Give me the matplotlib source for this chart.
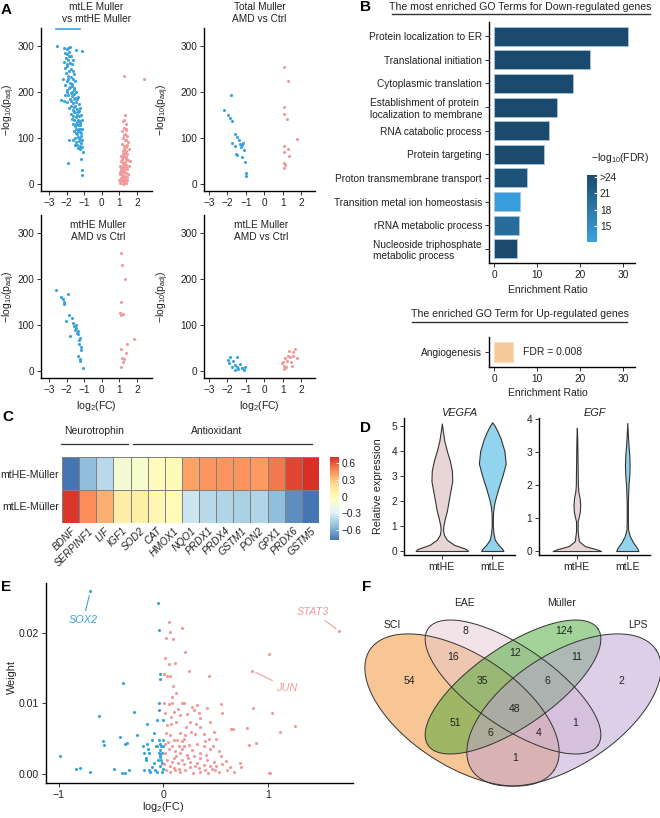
import matplotlib
matplotlib.use('Agg')
import matplotlib.pyplot as plt
import numpy as np
from matplotlib.colors import LinearSegmentedColormap, Normalize
from matplotlib.cm import ScalarMappable
from matplotlib.lines import Line2D

plt.rcParams['font.family'] = ['Liberation Sans', 'DejaVu Sans']
plt.rcParams['mathtext.fontset'] = 'custom'
plt.rcParams['mathtext.rm'] = 'Liberation Sans'
plt.rcParams['mathtext.it'] = 'Liberation Sans:italic'
plt.rcParams['mathtext.default'] = 'regular'

# ---------------- data ----------------
# A: volcano plots, (log2FC, -log10 padj)
a1_down = [(-2.55,300),(-2.15,297),(-2.0,294),(-1.9,296),(-1.78,298),(-1.45,291),(-1.12,290),
           (-2.1,286),(-1.95,283),(-1.85,279),(-2.05,274),(-1.9,270),(-2.15,266),(-1.8,263),(-1.98,258),
           (-2.08,252),(-1.72,251),(-1.88,246),(-1.62,247),(-2.02,241),(-1.92,236),(-1.77,233),(-2.18,230),
           (-1.66,229),(-1.97,224),(-1.82,221),(-2.06,216),(-1.71,214),(-1.88,209),(-1.58,206),(-1.95,201),
           (-1.76,199),(-1.56,196),(-1.9,193),(-1.67,191),(-1.82,186),(-1.5,188),(-1.72,181),(-2.3,183),
           (-2.16,180),(-1.96,178),(-1.61,176),(-1.46,179),(-1.76,171),(-1.56,169),(-1.86,166),(-1.41,164),
           (-1.66,161),(-1.51,158),(-1.77,153),(-1.36,156),(-1.61,149),(-1.46,146),(-1.31,148),(-1.71,141),
           (-1.56,139),(-1.41,136),(-1.26,138),(-1.62,131),(-1.36,129),(-1.51,126),(-1.21,128),(-1.46,119),
           (-1.31,121),(-1.56,116),(-1.26,113),(-1.41,109),(-1.16,111),(-1.36,103),(-1.51,101),(-1.21,99),
           (-1.31,93),(-1.46,91),(-1.16,89),(-1.26,83),(-1.36,79),(-1.11,81),(-1.21,76),(-1.62,97),
           (-1.86,95),(-1.52,86),(-1.9,45),(-1.2,55),(-1.15,30),(-1.12,20),
           (-1.45,200),(-1.35,190),(-1.3,175),(-1.25,165),(-1.2,150),(-1.15,140),(-1.3,160),(-1.4,185),
           (-1.55,210),(-1.5,225),(-1.6,240),(-1.7,262),(-1.75,280),(-1.65,270),(-2.0,205),(-2.1,195),
           (-1.25,120),(-1.18,105),(-1.1,95),(-1.35,140),(-1.45,130),(-1.4,150),(-1.5,170),(-1.6,185),
           (-1.7,200),(-1.8,212),(-1.92,228),(-2.0,262),(-1.85,288),(-1.67,218),(-1.57,158),(-1.48,112),
           (-1.33,115),(-1.22,133),(-1.28,100),(-1.38,86),(-1.1,120),(-1.05,70)]
a1_up = [(1.25,235),(2.4,230),
         (1.3,150),(1.22,138),(1.38,130),(1.28,122),(1.15,115),(1.33,110),(1.42,104),(1.2,100),(1.3,96),
         (1.48,92),(1.12,88),(1.25,84),(1.38,80),(1.55,76),(1.18,72),(1.32,68),(1.45,65),(1.08,62),
         (1.22,58),(1.35,55),(1.5,52),(1.62,50),(1.15,48),(1.28,45),(1.4,42),(1.05,40),(1.2,37),(1.33,35),
         (1.45,32),(1.1,30),(1.25,28),(1.38,25),(1.02,23),(1.15,20),(1.3,18),(1.42,16),(1.08,14),(1.2,12),
         (1.33,10),(1.0,8),(1.12,6),(1.25,5),(1.38,3),(1.05,2),(1.18,1),(1.3,2),
         (1.14,55),(1.27,62),(1.35,72),(1.24,76),(1.1,35),(1.18,42),(1.3,48),(1.4,58),(1.06,26),(1.16,29),
         (1.28,33),(1.22,24),(1.36,38),(1.12,16),(1.24,14),(1.06,9),(1.18,8),(1.3,7),(1.42,10),(1.5,22),
         (1.55,40),(1.44,85),(1.36,95),(1.26,108),(1.35,118),(1.28,140),(1.4,120),(1.1,50),(1.2,66)]
a1_capped_fc = [-2.6, -1.25]
a1_cap = 337
a2_down = [(-1.8,193),(-2.17,161),(-1.96,150),(-1.85,143),(-1.74,137),(-1.58,110),(-1.47,103),(-1.3,87),
           (-1.2,85),(-1.15,90),(-1.74,89),(-1.52,65),(-1.03,48),(-1.47,63),(-1.0,24),(-1.0,17),(-1.25,80),
           (-1.38,95),(-1.1,75),(-1.6,82),(-1.2,60)]
a2_up = [(1.09,254),(1.3,224),(1.09,168),(1.09,152),(1.24,141),(1.79,98),(1.09,83),(1.3,76),(1.09,70),
         (1.36,61),(1.09,45),(1.14,41),(1.09,35)]
a3_down = [(-2.61,176),(-2.33,161),(-1.93,167),(-2.22,156),(-2.16,150),(-2.13,146),(-1.87,122),(-1.7,116),
           (-2.05,109),(-1.59,98),(-1.48,94),(-1.53,90),(-1.36,88),(-1.82,77),(-1.36,81),(-1.25,73),
           (-1.31,60),(-1.19,45),(-1.36,34),(-1.25,26),(-1.25,21),(-1.08,6),(-1.45,100),(-1.65,105),
           (-1.4,84),(-1.3,68),(-1.2,52)]
a3_up = [(1.08,257),(1.14,231),(1.31,201),(1.08,150),(1.02,126),(1.19,124),(1.08,122),(1.82,69),(1.42,60),
         (1.08,49),(1.36,39),(1.14,28),(1.25,26),(1.19,19),(1.1,10)]
a4_down = [(-1.85,30),(-1.47,30),(-1.68,21),(-1.9,17),(-1.58,13),(-1.3,15),(-1.03,9),(-1.2,7),(-1.5,8),
           (-1.2,6),(-1.95,25),(-1.75,10),(-1.4,4),(-1.1,2),(-1.6,3)]
a4_up = [(0.98,17),(1.25,23),(1.41,30),(1.58,34),(1.1,12),(1.8,28),(1.7,49),(1.3,34),(1.03,19),(1.58,41),
         (1.2,8),(1.45,20),(1.05,5),(1.35,44),(1.5,12),(1.15,28)]
a_titles = ['mtLE Muller\nvs mtHE Muller', 'Total Muller\nAMD vs Ctrl', 'mtHE Muller\nAMD vs Ctrl', 'mtLE Muller\nAMD vs Ctrl']

# B: GO enrichment
go_terms = ['Protein localization to ER', 'Translational initiation', 'Cytoplasmic translation',
            'Establishment of protein\nlocalization to membrane', 'RNA catabolic process', 'Protein targeting',
            'Proton transmembrane transport', 'Transition metal ion homeostasis', 'rRNA metabolic process',
            'Nucleoside triphosphate\nmetabolic process']
go_ratio = [31.2, 22.3, 18.4, 14.7, 12.8, 11.6, 7.7, 6.0, 5.7, 5.3]
go_logfdr = [24.3, 24.3, 24.3, 24.3, 24.3, 24.3, 23.0, 13.0, 19.5, 24.3]
up_term = ['Angiogenesis']
up_ratio = [4.4]
up_fdr = '0.008'

# C: heatmap
heat_genes = ['BDNF', 'SERPINF1', 'LIF', 'IGF1', 'SOD2', 'CAT', 'HMOX1', 'NQO1', 'PRDX1', 'PRDX4',
              'GSTM1', 'PON2', 'GPX1', 'PRDX6', 'GSTM5']
heat_rows = ['mtHE-Müller', 'mtLE-Müller']
heat_he = [-0.72, -0.48, -0.36, -0.08, -0.06, 0.02, 0.04, 0.42, 0.45, 0.46, 0.46, 0.44, 0.53, 0.66, 0.72]
heat_le = [0.70, 0.48, 0.38, 0.14, 0.12, 0.06, 0.03, -0.30, -0.36, -0.38, -0.40, -0.38, -0.48, -0.64, -0.72]

# D: violin profiles (expression level, density)
vegfa_he_y = [0, 0.08, 0.25, 0.45, 0.65, 0.85, 1.0, 1.3, 1.6, 2.0, 2.4, 2.8, 3.2, 3.6, 4.0, 4.4, 4.8, 5.1]
vegfa_he_d = [26, 24, 12, 5, 2, 1.2, 1.5, 3, 5, 6.7, 8.5, 10.3, 10, 8, 5, 2.5, 1, 0]
vegfa_le_y = [0, 0.08, 0.25, 0.45, 0.7, 1.0, 1.5, 1.8, 2.0, 2.5, 3.0, 3.5, 4.0, 4.5, 4.8, 5.0, 5.15]
vegfa_le_d = [11, 10, 6, 2.5, 1.2, 0.5, 0.7, 1.5, 2.5, 6, 10, 13.3, 12, 8.3, 5, 2.5, 0]
egf_he_y = [0, 0.05, 0.15, 0.3, 0.6, 0.9, 1.05, 1.2, 1.4, 1.6, 1.8, 2.0, 2.5, 3.0, 3.4, 3.73]
egf_he_d = [24, 20, 8, 2, 0.8, 0.8, 2, 3, 3.3, 2.8, 1.5, 1, 0.8, 0.6, 0.4, 0]
egf_le_y = [0, 0.08, 0.25, 0.45, 0.65, 0.9, 1.5, 2.0, 2.3, 2.6, 2.9, 3.2, 3.5, 3.88]
egf_le_d = [11, 10, 6, 2.5, 0.8, 0.6, 0.6, 1.2, 2, 2.3, 2, 1.2, 0.6, 0]
groups = ['mtHE', 'mtLE']

# E: weight vs log2FC
e_down = [(-0.984,0.0025),(-0.831,0.0007),(-0.80,0.0008),(-0.704,0.0003),(-0.618,0.0082),(-0.576,0.0046),
          (-0.564,0.0041),(-0.475,0.0007),(-0.417,0.0053),(-0.385,0.0128),(-0.363,0.0043),(-0.344,0.0044),
          (-0.395,0.0001),(-0.363,0.0002),(-0.325,0.0006),(-0.277,0.0088),(-0.252,0.0055),
          (-0.194,0.0039),(-0.188,0.0029),(-0.156,0.0043),(-0.150,0.0035),(-0.162,0.0020),(-0.18,0.0006),
          (-0.14,0.0006),(-0.108,0.0010),(-0.092,0.0016),(-0.076,0.0006),(-0.124,0.0003),(-0.06,0.0003),
          (-0.045,0.0029),(-0.06,0.0040),(-0.156,0.0071),(-0.06,0.0076),(-0.041,0.0048),(-0.029,0.0042),
          (-0.022,0.0039),(-0.035,0.0034),(-0.013,0.0029),(-0.029,0.0024),(-0.019,0.0020),(-0.01,0.0016),
          (-0.029,0.0011),(-0.006,0.0007),(-0.016,0.0003),(-0.045,0.0091),(-0.041,0.0100),(-0.048,0.0242),
          (-0.041,0.0204),(-0.003,0.0076),(-0.001,0.0048),(-0.003,0.0039),(-0.035,0.0135),(-0.029,0.0142),
          (-0.086,0.0058),(-0.105,0.0048),(-0.14,0.0029),(-0.169,0.0022),(-0.073,0.0039),(-0.054,0.0020),
          (-0.035,0.0027),(-0.697,0.0258)]
e_up = [(0.051,0.0215),(0.067,0.0201),(0.029,0.0192),(0.092,0.0191),(0.178,0.0206),(0.21,0.0172),(0.019,0.0164),
        (0.115,0.0157),(0.051,0.0156),(0.01,0.0141),(0.035,0.0138),(0.067,0.0138),(0.092,0.0125),(0.242,0.0145),
        (0.433,0.0138),(1.006,0.0170),(0.847,0.0146),(0.003,0.0100),(0.051,0.0099),(0.083,0.0101),(0.178,0.0101),
        (0.2,0.0100),(0.417,0.0093),(0.551,0.0099),(0.857,0.0094),(1.038,0.0086),(1.252,0.0068),(1.111,0.0059),
        (0.889,0.0044),(0.80,0.0065),(0.815,0.0041),(0.646,0.0063),(0.662,0.0063),(0.729,0.0016),(0.742,0.0010),
        (1.006,0.0002),(1.022,0.0002),(0.506,0.0050),(0.56,0.0086),(0.338,0.0086),(0.29,0.0091),(0.347,0.0079),
        (0.258,0.0074),(0.124,0.0074),(0.073,0.0070),(0.035,0.0069),(0.156,0.0058),(0.21,0.0055),(0.306,0.0057),
        (0.385,0.0057),(0.433,0.0050),(0.481,0.0060),(0.099,0.0048),(0.178,0.0046),(0.242,0.0041),(0.322,0.0043),
        (0.385,0.0039),(0.449,0.0036),(0.529,0.0033),(0.051,0.0036),(0.115,0.0032),(0.162,0.0029),(0.226,0.0027),
        (0.29,0.0025),(0.354,0.0022),(0.417,0.0020),(0.481,0.0017),(0.561,0.0014),(0.64,0.0010),(0.035,0.0020),
        (0.083,0.0017),(0.137,0.0016),(0.194,0.0014),(0.258,0.0010),(0.338,0.0008),(0.401,0.0006),(0.465,0.0007),
        (0.529,0.0003),(0.608,0.0005),(0.029,0.0006),(0.067,0.0003),(0.115,0.0006),(0.162,0.0003),(0.21,0.0006),
        (0.283,0.0002),(0.354,0.0003),(0.424,0.0002),(0.497,0.0006),(0.672,0.0003),(0.019,0.0086),(0.029,0.0058),
        (0.019,0.0043),(0.013,0.0029),(0.01,0.0014),(0.061,0.0055),(0.131,0.0048),(0.2,0.0039),(0.274,0.0034),
        (0.347,0.0029),(0.411,0.0027),(0.099,0.0022),(0.178,0.0020),(0.252,0.0017),(0.322,0.0016),(0.385,0.0013),
        (0.449,0.0011),(0.146,0.0039),(0.22,0.0067),(0.354,0.0067),(0.443,0.0073),(0.099,0.0088),(0.162,0.0083),
        (0.274,0.0095),(0.322,0.0098),(0.083,0.0109),(0.124,0.0114),(0.04,0.0045),(0.08,0.0040),(0.12,0.0025),
        (0.06,0.0012),(0.1,0.0009),(0.15,0.0007),(0.18,0.0035),(0.24,0.0022),(0.3,0.0012),(0.07,0.0080),
        (0.14,0.0092),(0.23,0.0085),(0.31,0.0070),(0.26,0.0060),(0.2,0.0050),(0.4,0.0047),(0.47,0.0040),
        (0.55,0.0025),(0.6,0.0018),(0.5,0.0012),(1.68,0.0202)]
e_genes = {'SOX2': (-0.697, 0.0258), 'STAT3': (1.68, 0.0202), 'JUN': (0.847, 0.0146)}

# F: venn
venn_sets = ['SCI', 'EAE', 'Müller', 'LPS']
venn_counts = [54, 8, 124, 2, 16, 12, 11, 35, 6, 48, 51, 1, 6, 4, 1]

BLUE = '#38A3DD'
PINK = '#F29A9A'
TXT = '#222222'

# ---------------- helpers ----------------
W, H = 660, 818
fig = plt.figure(figsize=(6.6, 8.18), dpi=100)


def px_axes(l, t, r, b):
    return fig.add_axes([l / W, 1 - b / H, (r - l) / W, (b - t) / H])


def ftext(x, y, s, **kw):
    kw.setdefault('ha', 'center')
    kw.setdefault('va', 'center')
    kw.setdefault('color', TXT)
    fig.text(x / W, 1 - y / H, s, **kw)


def fline(x0, x1, y, lw=1.0):
    fig.add_artist(Line2D([x0 / W, x1 / W], [1 - y / H, 1 - y / H], color='#333333', lw=lw))


def classic(ax, size=7):
    for s in ['top', 'right']:
        ax.spines[s].set_visible(False)
    for s in ['left', 'bottom']:
        ax.spines[s].set_linewidth(1.0)
    ax.tick_params(length=3, width=0.7, labelsize=size, pad=2, labelcolor=TXT, color='#333333')


# ---------------- A ----------------
a_boxes = [(41, 28, 152, 191), (204, 28, 315, 191), (41, 215, 152, 378), (204, 215, 315, 378)]
a_xlims = [(-3.45, 2.85), (-3.27, 2.76), (-3.45, 2.85), (-3.27, 2.76)]
a_data = [(a1_down, a1_up), (a2_down, a2_up), (a3_down, a3_up), (a4_down, a4_up)]
for i, (box, xl, (dn, up)) in enumerate(zip(a_boxes, a_xlims, a_data)):
    ax = px_axes(*box)
    d = np.array(dn)
    u = np.array(up)
    ax.scatter(d[:, 0], d[:, 1], s=5, color=BLUE, lw=0)
    ax.scatter(u[:, 0], u[:, 1], s=5, color=PINK, lw=0)
    if i == 0:
        ax.plot(a1_capped_fc, [a1_cap, a1_cap], color=BLUE, lw=1.2)
    ax.set_xlim(*xl)
    ax.set_ylim(-15, 340)
    ax.set_xticks([-3, -2, -1, 0, 1, 2])
    ax.set_yticks([0, 100, 200, 300])
    classic(ax, 7.2)
    cx = (box[0] + box[2]) / 2
    if i < 2:
        ftext(cx, 13, a_titles[i], fontsize=7.3, linespacing=1.15)
    else:
        ftext(cx + 2, 231, a_titles[i], fontsize=7.3, linespacing=1.15)
        ftext(cx, 406, 'log$_2$(FC)', fontsize=7.6)
    ylx = 9 if box[0] < 100 else 163
    ftext(ylx, (box[1] + box[3]) / 2, '−log$_{10}$(p$_{adj}$)', fontsize=7.5, rotation=90)

# ---------------- B ----------------
cmap_b = LinearSegmentedColormap.from_list('fdr', ['#3AA3E3', '#1A4A6D'])
norm_b = Normalize(12.2, 24.3)
ax = px_axes(489, 22, 635, 263)
ypos = np.arange(len(go_terms))[::-1]
ax.barh(ypos, go_ratio, height=0.8, color=cmap_b(norm_b(go_logfdr)), edgecolor='#a9c7dc', linewidth=0.6)
ax.set_yticks(ypos)
ax.set_yticklabels(go_terms)
ax.set_xlim(-1.2, 32.8)
ax.set_ylim(-0.6, 9.6)
ax.set_xticks([0, 10, 20, 30])
classic(ax, 7.3)
for lb in ax.get_yticklabels():
    lb.set_multialignment('left')
ftext(548, 290, 'Enrichment Ratio', fontsize=7.5)
ftext(520, 7, 'The most enriched GO Terms for Down-regulated genes', fontsize=7.6)
fline(392, 650, 14)

cax = px_axes(587, 175, 597, 242)
cb = fig.colorbar(ScalarMappable(norm=norm_b, cmap=cmap_b), cax=cax, ticks=[15, 18, 21, 24])
cb.set_ticklabels(['15', '18', '21', '>24'])
cb.outline.set_visible(False)
cax.tick_params(length=2.5, width=0.8, color='white', direction='in', labelsize=7.3, pad=2, labelcolor=TXT)
ftext(620, 158, '−log$_{10}$(FDR)', fontsize=7.5)

ax = px_axes(489, 337, 635, 367)
ax.barh([0], up_ratio, height=0.8, color='#F8C99B', edgecolor='#fbdcc0', linewidth=0.6)
ax.set_yticks([0])
ax.set_yticklabels(up_term)
ax.set_xlim(-1.2, 32.8)
ax.set_ylim(-0.6, 0.6)
ax.set_xticks([0, 10, 20, 30])
classic(ax, 7.3)
ax.text(6.8, 0, 'FDR = ' + up_fdr, va='center', fontsize=7.5, color=TXT)
ftext(548, 393, 'Enrichment Ratio', fontsize=7.5)
ftext(520, 314, 'The enriched GO Term for Up-regulated genes', fontsize=7.6)
fline(412, 627, 322)

# ---------------- C ----------------
cmap_c = LinearSegmentedColormap.from_list('rdylbu', ['#4575B4', '#91BFDB', '#E0F3F8', '#FFFFBF',
                                                      '#FEE090', '#FC8D59', '#D73027'])
ax = px_axes(62, 457, 319, 523)
ax.pcolormesh(np.arange(len(heat_genes) + 1), np.arange(3), np.array([heat_he, heat_le]),
              cmap=cmap_c, vmin=-0.72, vmax=0.72, edgecolors='#808080', linewidth=0.4)
ax.set_xlim(0, len(heat_genes))
ax.set_ylim(2, 0)
for s in ax.spines.values():
    s.set_visible(False)
ax.set_xticks(np.arange(len(heat_genes)) + 0.5)
ax.set_xticklabels(heat_genes, rotation=45, ha='right', rotation_mode='anchor', style='italic')
ax.set_yticks([0.5, 1.5])
ax.set_yticklabels(heat_rows)
ax.tick_params(length=0, labelsize=7.3, labelcolor=TXT, pad=2)
ax.tick_params(axis='y', labelsize=7.6)
ax.plot([-0.06, 3.85], [-0.4, -0.4], color='#333333', lw=0.9, clip_on=False)
ax.plot([4.15, 14.6], [-0.4, -0.4], color='#333333', lw=0.9, clip_on=False)
ax.text(1.9, -0.8, 'Neurotrophin', ha='center', va='center', fontsize=7.5, color=TXT)
ax.text(9.0, -0.8, 'Antioxidant', ha='center', va='center', fontsize=7.5, color=TXT)

cax = px_axes(330, 457, 339, 540)
cb = fig.colorbar(ScalarMappable(norm=Normalize(-0.78, 0.71), cmap=cmap_c), cax=cax,
                  ticks=[-0.6, -0.3, 0, 0.3, 0.6])
cb.set_ticklabels(['−0.6', '−0.3', '0', '0.3', '0.6'])
cb.outline.set_visible(False)
cax.tick_params(length=2, width=0.6, color='white', direction='in', labelsize=7.3, pad=2, labelcolor=TXT)

# ---------------- D ----------------
violin_scale = 0.02
d_specs = [((404, 418, 515, 555), 'VEGFA', (-0.16, 5.32), [0, 1, 2, 3, 4, 5],
            [(vegfa_he_y, vegfa_he_d), (vegfa_le_y, vegfa_le_d)]),
           ((539, 418, 650, 555), 'EGF', (-0.12, 4.03), [0, 1, 2, 3, 4],
            [(egf_he_y, egf_he_d), (egf_le_y, egf_le_d)])]
vcols = ['#E8D5D6', '#92D3EE']
for box, gene, yl, yt, prof in d_specs:
    ax = px_axes(*box)
    for k, (yy, dd) in enumerate(prof):
        hw = np.array(dd) * violin_scale
        ax.fill_betweenx(yy, k - hw, k + hw, facecolor=vcols[k], edgecolor='#333333', lw=0.8)
    ax.set_xlim(-0.75, 1.45)
    ax.set_ylim(*yl)
    ax.set_yticks(yt)
    ax.set_xticks([0, 1])
    ax.set_xticklabels(groups)
    classic(ax, 7.3)
    ax.tick_params(axis='x', labelsize=7.6)
    ftext((box[0] + box[2]) / 2, 413, gene, fontsize=7.8, style='italic')
ftext(378, 486, 'Relative expression', fontsize=7.8, rotation=90)

# ---------------- E ----------------
ax = px_axes(46, 583, 353, 783)
d = np.array(e_down)
u = np.array(e_up)
ax.scatter(d[:, 0], d[:, 1], s=5, color=BLUE, lw=0)
ax.scatter(u[:, 0], u[:, 1], s=5, color=PINK, lw=0)
ax.set_xlim(-1.12, 1.81)
ax.set_ylim(-0.00127, 0.027)
ax.set_xticks([-1, 0, 1])
ax.set_yticks([0, 0.01, 0.02])
ax.set_yticklabels(['0.00', '0.01', '0.02'])
classic(ax, 7.6)
lab_pos = {'SOX2': (-0.764, 0.0218), 'STAT3': (1.43, 0.0229), 'JUN': (1.18, 0.0122)}
for g, xy in e_genes.items():
    c = BLUE if xy[0] < 0 else PINK
    ax.annotate(g, xy=xy, xytext=lab_pos[g], ha='center', va='center', fontsize=7.8, style='italic',
                color=c, arrowprops=dict(arrowstyle='-', color=c, lw=0.8, shrinkA=1, shrinkB=3))
ftext(12, 677, 'Weight', fontsize=7.8, rotation=90)
ftext(163, 807, 'log$_2$(FC)', fontsize=7.8)

# ---------------- F ----------------
# axes in pixel units (y pointing down) so the ellipses keep their shape
ax = px_axes(340, 580, 660, 818)
ax.set_xlim(340, 660)
ax.set_ylim(818, 580)
ax.axis('off')
ell = [((462, 710), 110, 56, 33, '#F38F2D'),
       ((513, 687), 103, 40, 34.5, '#E5C9D1'),
       ((513, 687), 103, 40, -34.5, '#47A935'),
       ((564, 710), 110, 56, -33, '#BBA1D1')]
t = np.linspace(0, 2 * np.pi, 300)
outlines = []
for (cx, cy), a, b, ang, col in ell:
    th = np.deg2rad(ang)
    ex = cx + a * np.cos(t) * np.cos(th) - b * np.sin(t) * np.sin(th)
    ey = cy + a * np.cos(t) * np.sin(th) + b * np.sin(t) * np.cos(th)
    ax.fill(ex, ey, facecolor=col, alpha=0.5, lw=0)
    outlines.append((ex, ey))
for ex, ey in outlines:
    ax.plot(ex, ey, color='#333333', lw=0.7)
cnt_pos = [(409, 681), (465, 631), (564, 631), (621, 681), (453, 657), (515, 653), (577, 657), (482, 681),
           (547, 681), (515, 709), (455, 723), (575, 723), (490, 733), (539, 733), (515, 758)]
for n, (x, y) in zip(venn_counts, cnt_pos):
    ax.text(x, y, str(n), ha='center', va='center', fontsize=7.5, color=TXT)
set_pos = [(392, 625), (464, 603), (562, 603), (638, 625)]
for s, (x, y) in zip(venn_sets, set_pos):
    ax.text(x, y, s, ha='center', va='center', fontsize=7.5, color=TXT)

# panel letters
for L, x, y in [('A', 1, 10), ('B', 360, 7), ('C', 2, 417), ('D', 360, 428), ('E', 1, 587), ('F', 362, 587)]:
    ftext(x, y, L, fontsize=11, fontweight='bold', ha='left', color='black')

fig.savefig('out.png', dpi=100)
